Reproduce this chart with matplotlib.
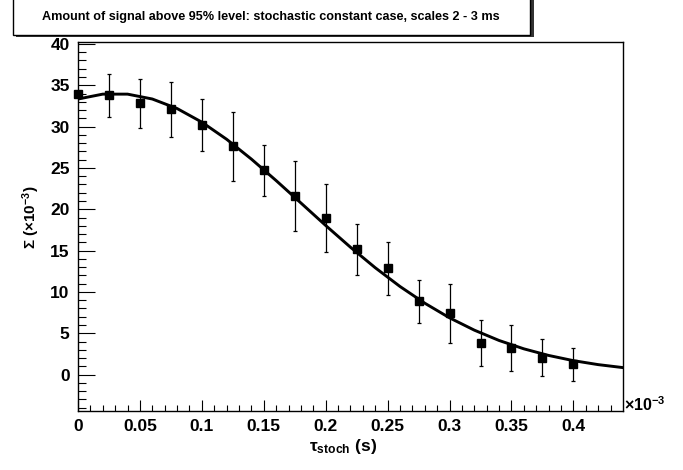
import matplotlib
matplotlib.use("Agg")
import matplotlib.pyplot as plt
from matplotlib.patches import Rectangle
from matplotlib.ticker import MultipleLocator

plt.rcParams['font.family'] = ['Liberation Sans', 'DejaVu Sans']
plt.rcParams['font.weight'] = 'bold'
plt.rcParams['mathtext.fontset'] = 'custom'
plt.rcParams['mathtext.rm'] = 'Liberation Sans'
plt.rcParams['mathtext.bf'] = 'Liberation Sans:bold'
plt.rcParams['mathtext.it'] = 'Liberation Sans:bold'

# measured points (tau in units of 1e-3 s, Sigma in units of 1e-3)
tau = [0.0, 0.025, 0.05, 0.075, 0.1, 0.125, 0.15, 0.175, 0.2,
       0.225, 0.25, 0.275, 0.3, 0.325, 0.35, 0.375, 0.4]
sigma = [33.9, 33.8, 32.8, 32.1, 30.2, 27.6, 24.7, 21.6, 18.9,
         15.15, 12.85, 8.87, 7.41, 3.85, 3.2, 2.07, 1.25]
sigma_err = [0.0, 2.6, 2.95, 3.3, 3.1, 4.2, 3.1, 4.25, 4.1,
             3.1, 3.2, 2.57, 3.6, 2.8, 2.8, 2.2, 2.0]

# fitted curve
fit_tau = [0.0, 0.02, 0.04, 0.06, 0.08, 0.10, 0.12, 0.14, 0.16, 0.18, 0.20, 0.22,
           0.24, 0.26, 0.28, 0.30, 0.32, 0.34, 0.36, 0.38, 0.40, 0.42, 0.44]
fit_sigma = [33.34, 33.93, 33.93, 33.34, 32.19, 30.54, 28.47, 26.07, 23.47, 20.76,
             18.04, 15.41, 12.93, 10.66, 8.64, 6.87, 5.38, 4.13, 3.12, 2.32,
             1.69, 1.21, 0.85]

title = "Amount of signal above 95% level: stochastic constant case, scales 2 - 3 ms"
xtick_vals = [0, 0.05, 0.1, 0.15, 0.2, 0.25, 0.3, 0.35, 0.4]
xtick_labels = ['0', '0.05', '0.1', '0.15', '0.2', '0.25', '0.3', '0.35', '0.4']

W, H = 683, 470
fig = plt.figure(figsize=(W / 100, H / 100), dpi=100)
ax = fig.add_axes([78 / W, 1 - 411 / H, (622.7 - 78) / W, (411 - 42.3) / H])

ax.plot(fit_tau, fit_sigma, color='black', lw=2.1, zorder=2)
ax.errorbar(tau, sigma, yerr=sigma_err, fmt='s', color='black', ms=5.8,
            elinewidth=0.9, capsize=1.6, capthick=0.9, zorder=3, clip_on=False)

ax.set_xlim(0, 0.4398)
ax.set_ylim(-4.4, 40.2)
ax.set_xticks(xtick_vals)
ax.set_xticklabels(xtick_labels)
ax.xaxis.set_minor_locator(MultipleLocator(0.01))
ax.yaxis.set_major_locator(MultipleLocator(5))
ax.yaxis.set_minor_locator(MultipleLocator(1))

ax.tick_params(axis='both', which='both', direction='in', width=0.8,
               labelsize=12.5, top=False, right=False)
ax.tick_params(axis='y', which='major', length=12, pad=6)
ax.tick_params(axis='y', which='minor', length=6)
ax.tick_params(axis='x', which='major', length=8, pad=6)
ax.tick_params(axis='x', which='minor', length=4.3)
for lab in ax.get_xticklabels() + ax.get_yticklabels():
    lab.set_fontweight('bold')
for sp in ax.spines.values():
    sp.set_linewidth(1.0)

fig.text(343 / W, 1 - 447 / H, r'$\mathrm{\tau}_{\mathbf{stoch}}$ (s)',
         ha='center', va='center', fontsize=12.5, fontweight='bold')
fig.text(31 / W, 1 - 217 / H, r'$\mathrm{\Sigma}$ ($\mathbf{\times 10^{-3}}$)',
         ha='center', va='center', rotation=90, fontsize=11, fontweight='bold')
fig.text(624 / W, 1 - 411 / H, r'$\mathrm{\times}$10$^{\mathbf{-3}}$',
         ha='left', va='baseline', fontsize=11.5, fontweight='bold')

# title pave with shadow
shadow = Rectangle((15.5 / W, 1 - 37 / H), (531.7 - 13.3) / W, 60 / H,
                   transform=fig.transFigure, facecolor='#333333', edgecolor='none',
                   zorder=-2)
box = Rectangle((13.3 / W, 1 - 35 / H), (529.7 - 13.3) / W, 60 / H,
                transform=fig.transFigure, facecolor='white', edgecolor='black',
                lw=1.0, zorder=-1)
fig.patches.extend([shadow, box])
fig.text(270.7 / W, 1 - 17 / H, title, ha='center', va='center',
         fontsize=9.1, fontweight='bold')

fig.savefig('out.png', dpi=100)
